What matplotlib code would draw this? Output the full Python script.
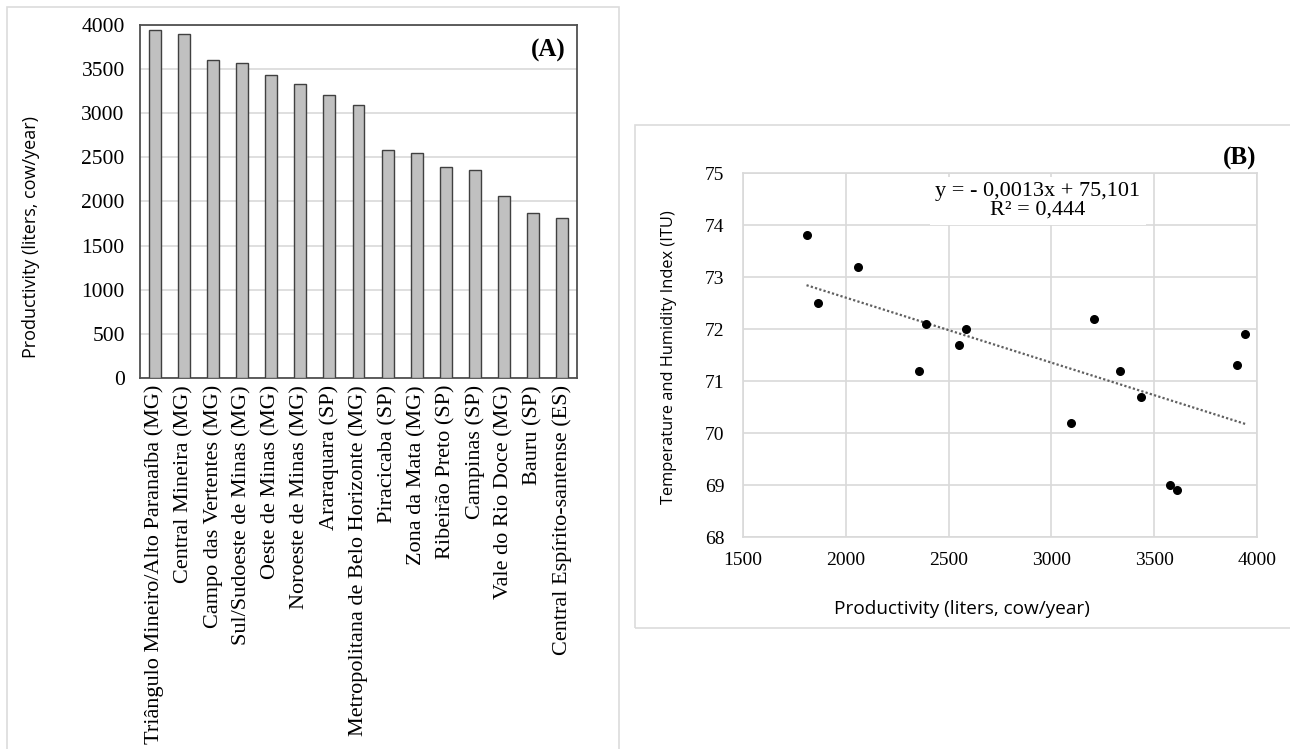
import numpy as np
import matplotlib; matplotlib.use('Agg')
import matplotlib.pyplot as plt
from matplotlib.patches import Rectangle

regions = ['Triângulo Mineiro/Alto Paranaíba (MG)', 'Central Mineira (MG)', 'Campo das Vertentes (MG)',
           'Sul/Sudoeste de Minas (MG)', 'Oeste de Minas (MG)', 'Noroeste de Minas (MG)', 'Araraquara (SP)',
           'Metropolitana de Belo Horizonte (MG)', 'Piracicaba (SP)', 'Zona da Mata (MG)', 'Ribeirão Preto (SP)',
           'Campinas (SP)', 'Vale do Rio Doce (MG)', 'Bauru (SP)', 'Central Espírito-santense (ES)']
productivity = [3943, 3901, 3609, 3575, 3435, 3333, 3208, 3094, 2586, 2552, 2392, 2358, 2059, 1865, 1809]
itu = [71.9, 71.3, 68.9, 69.0, 70.7, 71.2, 72.2, 70.2, 72.0, 71.7, 72.1, 71.2, 73.2, 72.5, 73.8]
eq_text = 'y = - 0,0013x + 75,101\nR² = 0,444'

SERIF = ['Liberation Serif', 'DejaVu Serif']
SANS = ['Open Sans', 'DejaVu Sans']
GRID = '#d9d9d9'

W, H = 1290, 749
fig = plt.figure(figsize=(W/100, H/100), dpi=100)

# outer panel frames
fig.patches.append(Rectangle((7/W, -0.05), 612/W, 1.05 - 7/H, transform=fig.transFigure,
                             fill=False, ec='#dcdcdc', lw=1.2))
fig.patches.append(Rectangle((635/W, 1 - 628/H), 700/W, 503/H, transform=fig.transFigure,
                             fill=False, ec='#dcdcdc', lw=1.2))

# (A) bar chart
axA = fig.add_axes([140/W, 1 - 378/H, 437/W, 353/H])
x = np.arange(len(regions))
axA.bar(x, productivity, width=0.41, color='#c0c0c0', edgecolor='#404040', linewidth=1.0, zorder=3)
axA.set_xlim(-0.5, len(regions) - 0.5)
axA.set_ylim(0, 4000)
axA.set_yticks(np.arange(0, 4001, 500))
axA.yaxis.grid(True, color=GRID, lw=1.2, zorder=0)
axA.set_axisbelow(True)
axA.set_xticks(x)
axA.set_xticklabels(regions, rotation=90, family=SERIF, fontsize=16)
for lab in axA.get_yticklabels():
    lab.set_family(SERIF); lab.set_fontsize(15.5)
axA.tick_params(axis='y', length=0, pad=11)
axA.tick_params(axis='x', length=0, pad=5)
for s in axA.spines.values():
    s.set_color('#505050'); s.set_linewidth(1.3)
axA.set_ylabel('Productivity (liters, cow/year)', family=SANS, fontsize=13)
axA.yaxis.set_label_coords(-0.229, 0.40)
axA.text(0.934, 0.929, '(A)', transform=axA.transAxes, ha='center', va='center',
         family=SERIF, fontsize=18, fontweight='bold')

# (B) scatter with trend line
axB = fig.add_axes([743/W, 1 - 537/H, 514/W, 364/H])
px = np.array(productivity, dtype=float)
py = np.array(itu)
axB.scatter(px, py, s=30, color='black', zorder=4)
k, b = np.polyfit(px, py, 1)
xs = np.array([px.min(), px.max()])
axB.plot(xs, k * xs + b, ls=(0, (1, 1)), color='#606060', lw=1.6, zorder=3)
axB.set_xlim(1500, 4000)
axB.set_ylim(68, 75)
axB.set_xticks(np.arange(1500, 4001, 500))
axB.set_yticks(np.arange(68, 76, 1))
axB.grid(True, color=GRID, lw=1.2, zorder=0)
axB.set_axisbelow(True)
for lab in axB.get_xticklabels() + axB.get_yticklabels():
    lab.set_family(SERIF); lab.set_fontsize(14)
axB.tick_params(axis='y', length=0, pad=13.5)
axB.tick_params(axis='x', length=0, pad=11)
for s in axB.spines.values():
    s.set_color(GRID); s.set_linewidth(1.2)
axB.set_ylabel('Temperature and Humidity Index (ITU)', family=SANS, fontsize=11.8)
axB.yaxis.set_label_coords(-0.128, 0.495)
axB.set_xlabel('Productivity (liters, cow/year)', family=SANS, fontsize=13.7)
axB.xaxis.set_label_coords(0.426, -0.173)
axB.text(2935, 74.46, eq_text, ha='center', va='center', family=SERIF, fontsize=16,
         linespacing=0.95, zorder=5,
         bbox=dict(facecolor='white', edgecolor='none', pad=4))
axB.text(0.967, 1.041, '(B)', transform=axB.transAxes, ha='center', va='center',
         family=SERIF, fontsize=18, fontweight='bold')

fig.savefig('out.png', dpi=100)
